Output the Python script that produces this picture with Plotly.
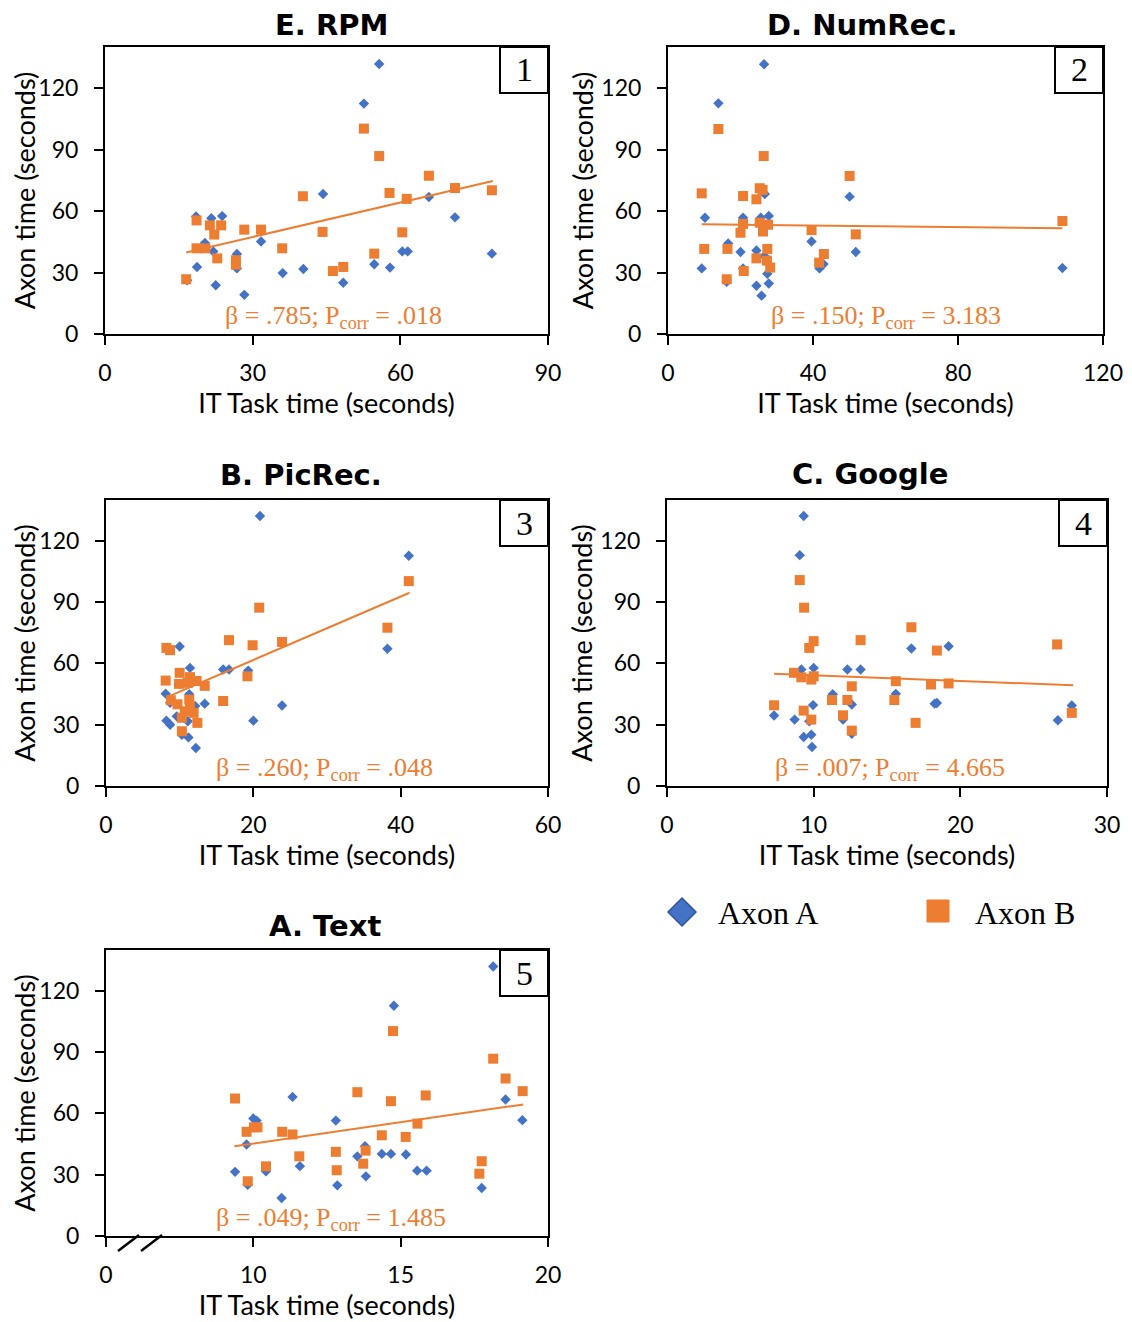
import plotly.graph_objects as go

# page body has an 8px margin; the figure is sized so it fills the 1132x1322 window
OX, OY = 8, 8
W, H = 1124, 1314

# ---------------- data ----------------
titles = ["E. RPM", "D. NumRec.", "B. PicRec.", "C. Google", "A. Text"]
panel_numbers = ["1", "2", "3", "4", "5"]
betas = [".785", ".150", ".260", ".007", ".049"]
pcorrs = [".018", "3.183", ".048", "4.665", "1.485"]
series_names = ["Axon A", "Axon B"]

rpm_a_x = [55.7, 52.6, 44.3, 65.8, 71.1, 78.6, 60.4, 61.5, 54.7, 57.9, 48.4, 40.3, 36.1, 31.7, 28.3, 22.5, 26.8, 26.8, 18.7, 16.7, 20.3, 18.5, 21.6, 23.8, 22.0]
rpm_a_y = [131.7, 112.4, 68.3, 66.8, 56.9, 39.2, 40.3, 40.3, 34.0, 32.4, 25.0, 31.7, 29.7, 45.1, 19.1, 23.8, 39.0, 32.0, 32.7, 26.2, 44.4, 57.3, 56.5, 57.5, 40.3]
rpm_b_x = [52.6, 55.7, 65.8, 71.1, 78.6, 57.8, 61.3, 40.2, 44.2, 60.4, 54.7, 48.4, 46.3, 36.0, 31.7, 28.3, 26.6, 26.6, 23.6, 21.3, 22.2, 22.8, 18.6, 18.6, 20.4, 16.5]
rpm_b_y = [100.2, 86.8, 77.2, 71.2, 70.1, 68.8, 65.9, 67.2, 49.8, 49.6, 39.2, 32.7, 30.7, 41.8, 50.9, 50.9, 36.0, 33.8, 53.0, 53.0, 48.5, 36.9, 55.4, 41.8, 41.8, 26.7]
rpm_trend_x = [16.5, 78.8]
rpm_trend_y = [39.8, 74.6]

num_a_x = [26.5, 13.9, 26.7, 50.1, 10.2, 20.7, 25.6, 27.8, 16.6, 20.0, 24.4, 39.6, 51.8, 9.3, 20.7, 16.2, 24.4, 25.8, 27.8, 27.4, 41.8, 42.9, 26.6, 108.8]
num_a_y = [131.6, 112.5, 68.3, 67.0, 56.7, 56.7, 56.7, 57.6, 44.2, 40.0, 40.7, 45.1, 40.0, 32.0, 32.0, 25.5, 23.5, 18.7, 24.6, 29.4, 32.0, 34.1, 38.0, 32.2]
num_b_x = [13.9, 26.4, 50.1, 9.3, 20.7, 24.4, 25.3, 26.1, 20.7, 20.0, 25.3, 26.2, 27.6, 39.6, 51.8, 10.0, 16.4, 27.4, 24.4, 27.3, 28.2, 43.0, 41.7, 20.9, 16.2, 108.8]
num_b_y = [100.0, 86.8, 77.1, 68.6, 67.3, 65.7, 71.1, 70.3, 53.7, 49.4, 54.3, 50.0, 53.3, 50.7, 48.6, 41.5, 41.5, 41.5, 36.9, 35.8, 32.4, 39.0, 34.8, 30.7, 26.7, 55.1]
num_trend_x = [9.3, 108.8]
num_trend_y = [53.5, 51.6]

pic_a_x = [20.9, 10.0, 11.4, 15.9, 16.7, 19.3, 8.1, 8.7, 11.3, 12.1, 13.4, 8.2, 8.7, 9.6, 10.3, 11.2, 12.2, 20.0, 23.9, 11.1, 41.1, 38.2]
pic_a_y = [132.2, 68.3, 57.8, 57.0, 57.0, 56.5, 45.2, 40.7, 44.9, 39.1, 40.3, 32.0, 30.0, 34.1, 25.1, 23.8, 18.6, 32.0, 39.4, 31.7, 112.7, 67.2]
pic_b_x = [20.8, 16.7, 19.9, 23.9, 8.2, 8.7, 19.2, 10.0, 8.1, 9.9, 11.4, 12.3, 13.4, 11.1, 8.8, 9.7, 11.3, 11.4, 15.9, 10.7, 11.9, 10.3, 12.4, 10.3, 41.1, 38.2]
pic_b_y = [87.3, 71.4, 68.9, 70.5, 67.6, 66.5, 53.7, 55.4, 51.6, 50.0, 53.3, 51.4, 49.0, 50.5, 42.0, 40.0, 42.3, 39.1, 41.6, 36.6, 35.8, 33.4, 30.9, 26.8, 100.3, 77.5]
pic_trend_x = [8.2, 41.2]
pic_trend_y = [43.4, 94.6]

goo_a_x = [9.32, 9.05, 9.16, 10.0, 12.3, 13.2, 11.3, 12.6, 9.96, 7.3, 8.7, 12.0, 9.7, 9.32, 9.84, 9.89, 12.6, 16.66, 19.2, 15.6, 18.25, 18.4, 26.65, 27.6]
goo_a_y = [132.2, 113.0, 57.0, 57.8, 57.0, 57.0, 44.9, 39.9, 39.6, 34.5, 32.5, 32.5, 31.7, 24.0, 25.1, 19.1, 25.6, 67.3, 68.4, 45.1, 40.3, 40.6, 32.2, 39.4]
goo_b_x = [9.05, 9.35, 10.0, 9.7, 13.2, 8.66, 9.16, 9.84, 10.0, 12.6, 7.3, 11.25, 12.3, 9.32, 9.84, 12.0, 12.6, 16.66, 18.4, 26.6, 15.6, 18.0, 19.2, 15.5, 16.95, 27.6]
goo_b_y = [100.8, 87.3, 70.9, 67.6, 71.4, 55.4, 53.2, 52.1, 53.7, 48.8, 39.5, 42.1, 42.1, 36.9, 32.5, 34.6, 27.1, 77.7, 66.3, 69.3, 51.3, 49.7, 50.2, 42.1, 30.9, 35.8]
goo_trend_x = [7.3, 27.7]
goo_trend_y = [55.0, 49.3]

txt_a_x = [11.33, 10.0, 10.11, 12.80, 9.77, 9.38, 10.43, 11.58, 9.81, 10.96, 12.85, 18.14, 14.77, 18.56, 19.13, 13.53, 13.79, 14.36, 14.67, 15.18, 15.56, 15.88, 13.82, 17.75]
txt_a_y = [68.1, 57.5, 56.5, 56.5, 44.8, 31.4, 31.7, 34.2, 25.1, 18.6, 24.8, 131.9, 112.7, 66.8, 56.7, 39.0, 43.9, 40.2, 40.2, 39.9, 32.0, 32.0, 29.2, 23.5]
txt_b_x = [9.38, 9.77, 10.02, 10.14, 10.98, 11.33, 11.56, 10.43, 9.81, 12.80, 12.83, 14.74, 18.14, 18.56, 19.14, 13.53, 14.67, 15.85, 15.57, 14.36, 15.17, 13.81, 13.73, 17.75, 17.67]
txt_b_y = [67.3, 51.0, 53.2, 53.2, 51.0, 49.7, 39.0, 34.1, 26.8, 41.2, 32.2, 100.3, 86.8, 77.1, 70.9, 70.4, 66.0, 68.8, 55.0, 49.3, 48.5, 41.8, 35.4, 36.6, 30.5]
txt_trend_x = [9.36, 19.16]
txt_trend_y = [43.9, 64.4]

y_ticks = [0, 30, 60, 90, 120]
x_ticks = [[0, 30, 60, 90], [0, 40, 80, 120], [0, 20, 40, 60], [0, 10, 20, 30], [5, 10, 15, 20]]
x_ticktext = [["0", "30", "60", "90"], ["0", "40", "80", "120"], ["0", "20", "40", "60"],
              ["0", "10", "20", "30"], ["0", "10", "15", "20"]]
x_ranges = [[0, 90], [0, 120], [0, 60], [0, 30], [5, 20]]
y_range = [0, 140]

panels = [
    (rpm_a_x, rpm_a_y, rpm_b_x, rpm_b_y, rpm_trend_x, rpm_trend_y),
    (num_a_x, num_a_y, num_b_x, num_b_y, num_trend_x, num_trend_y),
    (pic_a_x, pic_a_y, pic_b_x, pic_b_y, pic_trend_x, pic_trend_y),
    (goo_a_x, goo_a_y, goo_b_x, goo_b_y, goo_trend_x, goo_trend_y),
    (txt_a_x, txt_a_y, txt_b_x, txt_b_y, txt_trend_x, txt_trend_y),
]

# ---------------- layout geometry (window pixels) ----------------
BLUE = "#4472C4"
ORANGE = "#ED7D31"
boxes = [(105, 548, 47, 334), (668, 1103, 47, 334), (106, 548, 500, 786),
         (667, 1107, 500, 786), (106, 548, 950, 1236)]
title_px = [(331, 25), (862, 25), (301, 475), (870, 474), (325, 926)]
stat_xfrac = [0.515, 0.50, 0.495, 0.507, 0.509]


def fx(px):
    return (px - OX) / W


def fy(py):
    return 1 - (py - OY) / H


fig = go.Figure()
layout = dict(width=W, height=H, margin=dict(l=0, r=0, t=0, b=0, autoexpand=False),
              plot_bgcolor="white", paper_bgcolor="white", showlegend=False)
annotations = []
shapes = []

tickfont = dict(family="Lato", size=23, color="black")
titlefont = dict(family="Lato", size=27, color="black")

for i, (ax_, ay_, bx_, by_, tx_, ty_) in enumerate(panels):
    n = "" if i == 0 else str(i + 1)
    xa, ya = "x" + n, "y" + n
    fig.add_trace(go.Scatter(x=ax_, y=ay_, mode="markers", name=series_names[0],
                             xaxis=xa, yaxis=ya,
                             marker=dict(symbol="diamond", size=8, color=BLUE)))
    fig.add_trace(go.Scatter(x=bx_, y=by_, mode="markers", name=series_names[1],
                             xaxis=xa, yaxis=ya,
                             marker=dict(symbol="square", size=10, color=ORANGE)))
    fig.add_trace(go.Scatter(x=tx_, y=ty_, mode="lines", name="Linear (Axon B)",
                             xaxis=xa, yaxis=ya,
                             line=dict(color=ORANGE, width=2)))
    l, r, t, b = boxes[i]
    common = dict(showline=True, linecolor="black", linewidth=2, mirror=True,
                  ticks="outside", ticklen=9, tickwidth=2, tickcolor="black",
                  showgrid=False, zeroline=False, tickfont=tickfont, automargin=False)
    layout["xaxis" + n] = dict(domain=[fx(l), fx(r)], range=x_ranges[i],
                               tickvals=x_ticks[i], ticktext=x_ticktext[i],
                               anchor=ya, ticklabelstandoff=8,
                               title=dict(text="IT Task time (seconds)", font=titlefont, standoff=4),
                               **common)
    layout["yaxis" + n] = dict(domain=[fy(b), fy(t)], range=y_range,
                               tickvals=y_ticks, anchor=xa, ticklabelstandoff=11,
                               title=dict(text="Axon time (seconds)", font=titlefont, standoff=0),
                               **common)
    # panel title
    annotations.append(dict(text=titles[i], x=fx(title_px[i][0]), y=fy(title_px[i][1]),
                            xref="paper", yref="paper", showarrow=False,
                            xanchor="center", yanchor="middle",
                            font=dict(family="DejaVu Sans", size=29, color="black", weight="bold")))
    # stats text
    annotations.append(dict(text="β = " + betas[i] + "; P<sub>corr</sub> = " + pcorrs[i],
                            x=stat_xfrac[i], y=0.06, xref=xa + " domain", yref=ya + " domain",
                            showarrow=False, xanchor="center", yanchor="middle",
                            font=dict(family="Liberation Serif", size=26, color=ORANGE)))
    # number box
    shapes.append(dict(type="rect", xref="paper", yref="paper",
                       x0=fx(r - 48), x1=fx(r), y0=fy(t + 46), y1=fy(t),
                       line=dict(color="black", width=2), fillcolor="white"))
    annotations.append(dict(text=panel_numbers[i], x=fx(r - 24), y=fy(t + 23),
                            xref="paper", yref="paper", showarrow=False,
                            xanchor="center", yanchor="middle",
                            font=dict(family="Liberation Serif", size=34, color="black")))

# axis break marks on panel 5
for x0p in (118, 141):
    shapes.append(dict(type="line", xref="paper", yref="paper",
                       x0=fx(x0p), y0=fy(1251), x1=fx(x0p + 21), y1=fy(1235),
                       line=dict(color="black", width=2.5)))

# legend (drawn)
cx, cy, s = 682, 912, 14
shapes.append(dict(type="path", xref="paper", yref="paper",
                   path=f"M {fx(cx - s)} {fy(cy)} L {fx(cx)} {fy(cy - s)} L {fx(cx + s)} {fy(cy)} L {fx(cx)} {fy(cy + s)} Z",
                   fillcolor=BLUE, line=dict(color="#2F5597", width=1.5)))
shapes.append(dict(type="rect", xref="paper", yref="paper",
                   x0=fx(927), x1=fx(949), y0=fy(922), y1=fy(900),
                   fillcolor=ORANGE, line=dict(color=ORANGE, width=1)))
for txt, xp in ((series_names[0], 716), (series_names[1], 973)):
    annotations.append(dict(text=txt, x=fx(xp), y=fy(913), xref="paper", yref="paper",
                            showarrow=False, xanchor="left", yanchor="middle",
                            font=dict(family="Liberation Serif", size=32, color="black")))

layout["annotations"] = annotations
layout["shapes"] = shapes
fig.update_layout(**layout)
fig.write_html("out.html")
